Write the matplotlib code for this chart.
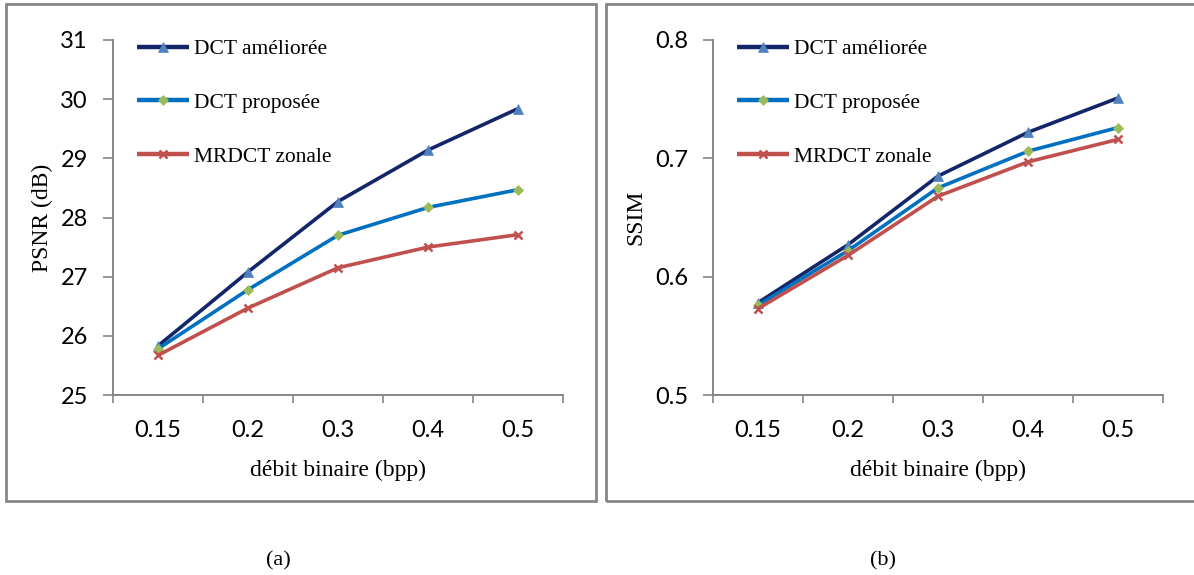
import matplotlib
matplotlib.use("Agg")
import matplotlib.pyplot as plt
from matplotlib.patches import Rectangle

categories = ["0.15", "0.2", "0.3", "0.4", "0.5"]
series_names = ["DCT améliorée", "DCT proposée", "MRDCT zonale"]

psnr_ameliore = [25.83, 27.08, 28.27, 29.14, 29.84]
psnr_propose = [25.78, 26.78, 27.70, 28.17, 28.47]
psnr_mrdct = [25.67, 26.47, 27.15, 27.50, 27.71]

ssim_ameliore = [0.578, 0.627, 0.685, 0.722, 0.751]
ssim_propose = [0.576, 0.622, 0.675, 0.706, 0.726]
ssim_mrdct = [0.573, 0.618, 0.668, 0.697, 0.716]

psnr_ticks = [25, 26, 27, 28, 29, 30, 31]
ssim_ticks = [0.5, 0.6, 0.7, 0.8]
psnr_ticklabels = ["25", "26", "27", "28", "29", "30", "31"]
ssim_ticklabels = ["0.5", "0.6", "0.7", "0.8"]

line_colors = ["#13266A", "#0070C0", "#C0504D"]
marker_colors = ["#4F81BD", "#9BBB59", "#C0504D"]
markers = ["^", "D", "x"]
msizes = [6.5, 5, 5.5]

W, H = 1194, 575
fig = plt.figure(figsize=(W / 100, H / 100), dpi=100)

serif = "Liberation Serif"
sans = "Lato"
gray = "#868686"

def px_axes(left, top, right, bottom):
    return fig.add_axes([left / W, 1 - bottom / H, (right - left) / W, (bottom - top) / H])

# panel frames
fig.patches.append(Rectangle((6 / W, 1 - 501 / H), (596 - 6) / W, (501 - 4) / H,
                             transform=fig.transFigure, fill=False, edgecolor=gray, lw=2))
fig.patches.append(Rectangle((606 / W, 1 - 501 / H), (1200 - 606) / W, (501 - 4) / H,
                             transform=fig.transFigure, fill=False, edgecolor=gray, lw=2))

def draw(ax, data, ticks, ticklabels, ylabel, ylabel_x):
    x = list(range(len(categories)))
    handles = []
    for vals, lc, mc, mk, ms, name in zip(data, line_colors, marker_colors, markers, msizes, series_names):
        mew = 1.8 if mk == "x" else 0.5
        h, = ax.plot(x, vals, color=lc, lw=2.6, marker=mk, ms=ms, mfc=mc, mec=mc, mew=mew,
                     label=name, solid_capstyle="butt")
        handles.append(h)
    ax.set_xlim(-0.5, len(categories) - 0.5)
    ax.set_ylim(ticks[0], ticks[-1])
    ax.set_yticks(ticks)
    ax.set_yticklabels(ticklabels, fontfamily=sans, fontsize=17)
    ax.set_xticks([i - 0.5 for i in range(len(categories) + 1)])
    ax.set_xticklabels([])
    ax.set_xticks(x, minor=True)
    ax.set_xticklabels(categories, minor=True, fontfamily=sans, fontsize=17)
    ax.tick_params(axis="x", which="minor", length=0, pad=18)
    ax.tick_params(axis="x", which="major", length=6, width=1.2, color=gray, direction="out")
    ax.tick_params(axis="y", length=7, width=1.2, color=gray, direction="out", pad=11)
    for s in ["top", "right"]:
        ax.spines[s].set_visible(False)
    for s in ["left", "bottom"]:
        ax.spines[s].set_color(gray)
        ax.spines[s].set_linewidth(1.4)
    ax.set_xlabel("débit binaire (bpp)", fontfamily=serif, fontsize=17)
    ax.xaxis.set_label_coords(0.5, -0.183)
    ax.set_ylabel(ylabel, fontfamily=serif, fontsize=17)
    ax.yaxis.set_label_coords(ylabel_x, 0.5)
    leg = ax.legend(handles=handles, loc="upper left", bbox_to_anchor=(0.053, 1.002),
                    frameon=False, prop={"family": serif, "size": 15.5},
                    borderaxespad=0, borderpad=0,
                    handlelength=2.42, handletextpad=0.25, labelspacing=1.56)
    for lh in leg.legend_handles:
        lh.set_linewidth(3.2)

ax1 = px_axes(113, 40, 563, 395)
draw(ax1, [psnr_ameliore, psnr_propose, psnr_mrdct], psnr_ticks, psnr_ticklabels, "PSNR (dB)", -0.133)

ax2 = px_axes(713, 40, 1163, 395)
draw(ax2, [ssim_ameliore, ssim_propose, ssim_mrdct], ssim_ticks, ssim_ticklabels, "SSIM", -0.147)

fig.text(278 / W, 1 - 561 / H, "(a)", fontfamily=serif, fontsize=16, ha="center", va="center")
fig.text(883 / W, 1 - 561 / H, "(b)", fontfamily=serif, fontsize=16, ha="center", va="center")

fig.savefig("out.png", dpi=100)
